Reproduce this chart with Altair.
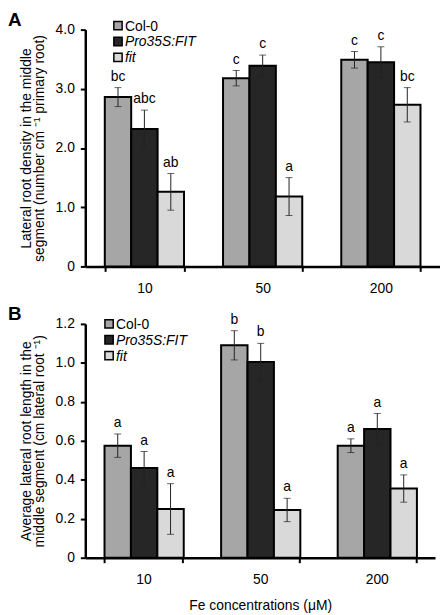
import altair as alt
import pandas as pd

FONT = "Liberation Sans"

concs = ["10", "50", "200"]
series = ["Col-0", "Pro35S:FIT", "fit"]
colors = ["#a6a6a6", "#262626", "#d9d9d9"]
italic = [False, True, True]

# Panel A: lateral root density
a_mean = {
    "Col-0": [2.86, 3.18, 3.49],
    "Pro35S:FIT": [2.32, 3.39, 3.45],
    "fit": [1.26, 1.18, 2.73],
}
a_err = {
    "Col-0": [0.16, 0.13, 0.14],
    "Pro35S:FIT": [0.32, 0.18, 0.26],
    "fit": [0.31, 0.32, 0.29],
}
a_letters = {
    "Col-0": ["bc", "c", "c"],
    "Pro35S:FIT": ["abc", "c", "c"],
    "fit": ["ab", "a", "bc"],
}

# Panel B: average lateral root length
b_mean = {
    "Col-0": [0.575, 1.09, 0.575],
    "Pro35S:FIT": [0.46, 1.005, 0.66],
    "fit": [0.25, 0.245, 0.355],
}
b_err = {
    "Col-0": [0.06, 0.075, 0.035],
    "Pro35S:FIT": [0.085, 0.095, 0.08],
    "fit": [0.13, 0.06, 0.07],
}
b_letters = {
    "Col-0": ["a", "b", "a"],
    "Pro35S:FIT": ["a", "b", "a"],
    "fit": ["a", "a", "a"],
}


def make_df(mean, err, letters):
    rows = []
    for s in series:
        for i, c in enumerate(concs):
            m = mean[s][i]
            e = err[s][i]
            rows.append(dict(conc=c, series=s, mean=m, lo=m - e, hi=m + e, letter=letters[s][i]))
    return pd.DataFrame(rows)


def panel(df, label, ytitle, ymax, ystep, width, height, leg_x, leg_y, xtitle):
    ticks = [round(i * ystep, 2) for i in range(int(round(ymax / ystep)) + 1)]
    yscale = alt.Scale(domain=[0, ymax], nice=False, zero=True)
    xaxis = alt.Axis(
        title=xtitle,
        labelAngle=0,
        tickBand="extent",
        domainColor="black",
        domainWidth=2.5,
        tickColor="black",
        tickWidth=2,
        tickSize=5,
        labelFont=FONT,
        labelFontSize=14,
        labelColor="black",
        labelPadding=10,
        titleFont=FONT,
        titleFontSize=14,
        titleFontWeight="normal",
        titleColor="black",
        titlePadding=12,
    )
    yaxis = alt.Axis(
        title=ytitle,
        values=ticks,
        labelExpr="datum.value == 0 ? '0' : format(datum.value, '.1f')",
        grid=False,
        domainColor="black",
        domainWidth=2.5,
        tickColor="black",
        tickWidth=2,
        tickSize=5,
        labelFont=FONT,
        labelFontSize=14,
        labelColor="black",
        labelPadding=6,
        titleFont=FONT,
        titleFontSize=14,
        titleFontWeight="normal",
        titleColor="black",
        titleLineHeight=12.5,
        titlePadding=9,
    )
    base = alt.Chart(df).encode(
        x=alt.X("conc:N", sort=concs,
                scale=alt.Scale(paddingInner=0.33, paddingOuter=0.165),
                axis=xaxis),
        xOffset=alt.XOffset("series:N", sort=series,
                            scale=alt.Scale(paddingInner=0, paddingOuter=0)),
    )
    bars = base.mark_bar(stroke="black", strokeWidth=2).encode(
        y=alt.Y("mean:Q", scale=yscale, axis=yaxis),
        fill=alt.Fill("series:N", scale=alt.Scale(domain=series, range=colors), legend=None),
    )
    rule = base.mark_rule(color="#222222", strokeWidth=1).encode(
        y=alt.Y("lo:Q", scale=yscale, axis=yaxis), y2="hi:Q")
    cap_hi = base.mark_tick(color="#222222", thickness=1, size=7).encode(
        y=alt.Y("hi:Q", scale=yscale, axis=yaxis))
    cap_lo = base.mark_tick(color="#222222", thickness=1, size=7).encode(
        y=alt.Y("lo:Q", scale=yscale, axis=yaxis))
    letters = base.mark_text(baseline="bottom", dy=-4, font=FONT, fontSize=14, color="black").encode(
        y=alt.Y("hi:Q", scale=yscale, axis=yaxis), text="letter:N")

    layers = [bars, rule, cap_hi, cap_lo, letters]

    # legend
    for i, s in enumerate(series):
        ldf = pd.DataFrame({"name": [s]})
        sym = alt.Chart(ldf).mark_square(size=70, stroke="black", strokeWidth=1.5,
                                         fill=colors[i], opacity=1).encode(
            x=alt.value(leg_x), y=alt.value(leg_y + 16 * i))
        txt = alt.Chart(ldf).mark_text(align="left", baseline="middle", font=FONT, fontSize=14,
                                       color="black",
                                       fontStyle="italic" if italic[i] else "normal").encode(
            x=alt.value(leg_x + 7), y=alt.value(leg_y + 16 * i + 1), text="name:N")
        layers += [sym, txt]

    ldf = pd.DataFrame({"t": [label]})
    lab = alt.Chart(ldf).mark_text(align="left", baseline="top", font=FONT, fontSize=19,
                                   fontWeight="bold", color="black").encode(
        x=alt.value(-78), y=alt.value(-19), text="t:N")
    layers.append(lab)

    return alt.layer(*layers).properties(width=width, height=height)


dfa = make_df(a_mean, a_err, a_letters)
dfb = make_df(b_mean, b_err, b_letters)

pa = panel(dfa, "A",
           ["Lateral root density in the middle", "segment (number cm \u207b\u00b9 primary root)"],
           4.0, 1.0, 358, 239, 33, -4, None)
pb = panel(dfb, "B",
           ["Average lateral root length in the", "middle segment (cm lateral root \u207b\u00b9)"],
           1.2, 0.2, 353, 236, 24, 0, "Fe concentrations (\u03bcM)")

chart = alt.vconcat(pa, pb, spacing=10).properties(padding=0).configure_view(stroke=None)

chart.save("out.html", embed_options={"renderer": "svg", "actions": False})
